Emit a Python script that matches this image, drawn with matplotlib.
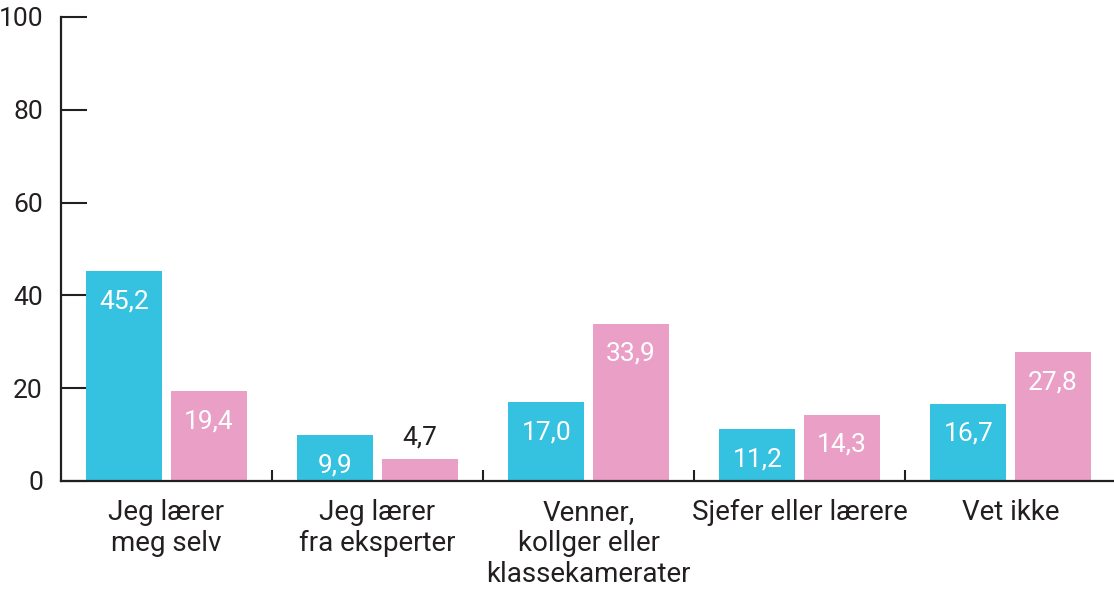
import matplotlib
matplotlib.use("Agg")
import matplotlib.pyplot as plt
import numpy as np

categories = ["Jeg lærer\nmeg selv", "Jeg lærer\nfra eksperter", "Venner,\nkollger eller\nklassekamerater",
              "Sjefer eller lærere", "Vet ikke"]
blue_values = [45.2, 9.9, 17.0, 11.2, 16.7]
pink_values = [19.4, 4.7, 33.9, 14.3, 27.8]
y_ticks = [0, 20, 40, 60, 80, 100]

BLUE = "#35C1E0"
PINK = "#EA9FC6"
DARK = "#231F20"

plt.rcParams['font.family'] = ['Roboto', 'DejaVu Sans']

W, H = 1114, 591
fig = plt.figure(figsize=(W / 100, H / 100), dpi=100)
ax = fig.add_axes([61 / W, (H - 481) / H, (1116 - 61) / W, (481 - 17) / H])

x = np.arange(len(categories))
bw = 0.36
off = 0.2
b1 = ax.bar(x - off, blue_values, width=bw, color=BLUE, zorder=2)
b2 = ax.bar(x + off, pink_values, width=bw, color=PINK, zorder=2)

def fmt(v):
    return f"{v:.1f}".replace(".", ",")

for bars, vals in ((b1, blue_values), (b2, pink_values)):
    for rect, v in zip(bars, vals):
        cx = rect.get_x() + rect.get_width() / 2
        if v >= 8:
            ax.annotate(fmt(v), (cx, v), xytext=(0, -13), textcoords="offset points",
                        ha="center", va="top", color="white", fontsize=19)
        else:
            ax.annotate(fmt(v), (cx, v), xytext=(0, 7), textcoords="offset points",
                        ha="center", va="bottom", color=DARK, fontsize=19)

ax.set_xlim(-0.5, 4.5)
ax.set_ylim(0, 100)
ax.set_yticks(y_ticks)
ax.set_yticklabels([str(t) for t in y_ticks], fontsize=19, color=DARK)
ax.tick_params(axis="y", direction="in", length=19, width=1.5, color=DARK, pad=13)

ax.set_xticks(x)
ax.set_xticklabels(categories, fontsize=20, color=DARK, linespacing=1.2)
ax.tick_params(axis="x", which="major", length=0, pad=13)
ax.set_xticks(np.arange(0.5, 4.0, 1.0), minor=True)
ax.tick_params(axis="x", which="minor", direction="in", length=8, width=1.5, color=DARK)

for s in ("top", "right"):
    ax.spines[s].set_visible(False)
for s in ("left", "bottom"):
    ax.spines[s].set_linewidth(1.6)
    ax.spines[s].set_color(DARK)
ax.spines["bottom"].set_zorder(3)

fig.savefig("out.png", dpi=100)
